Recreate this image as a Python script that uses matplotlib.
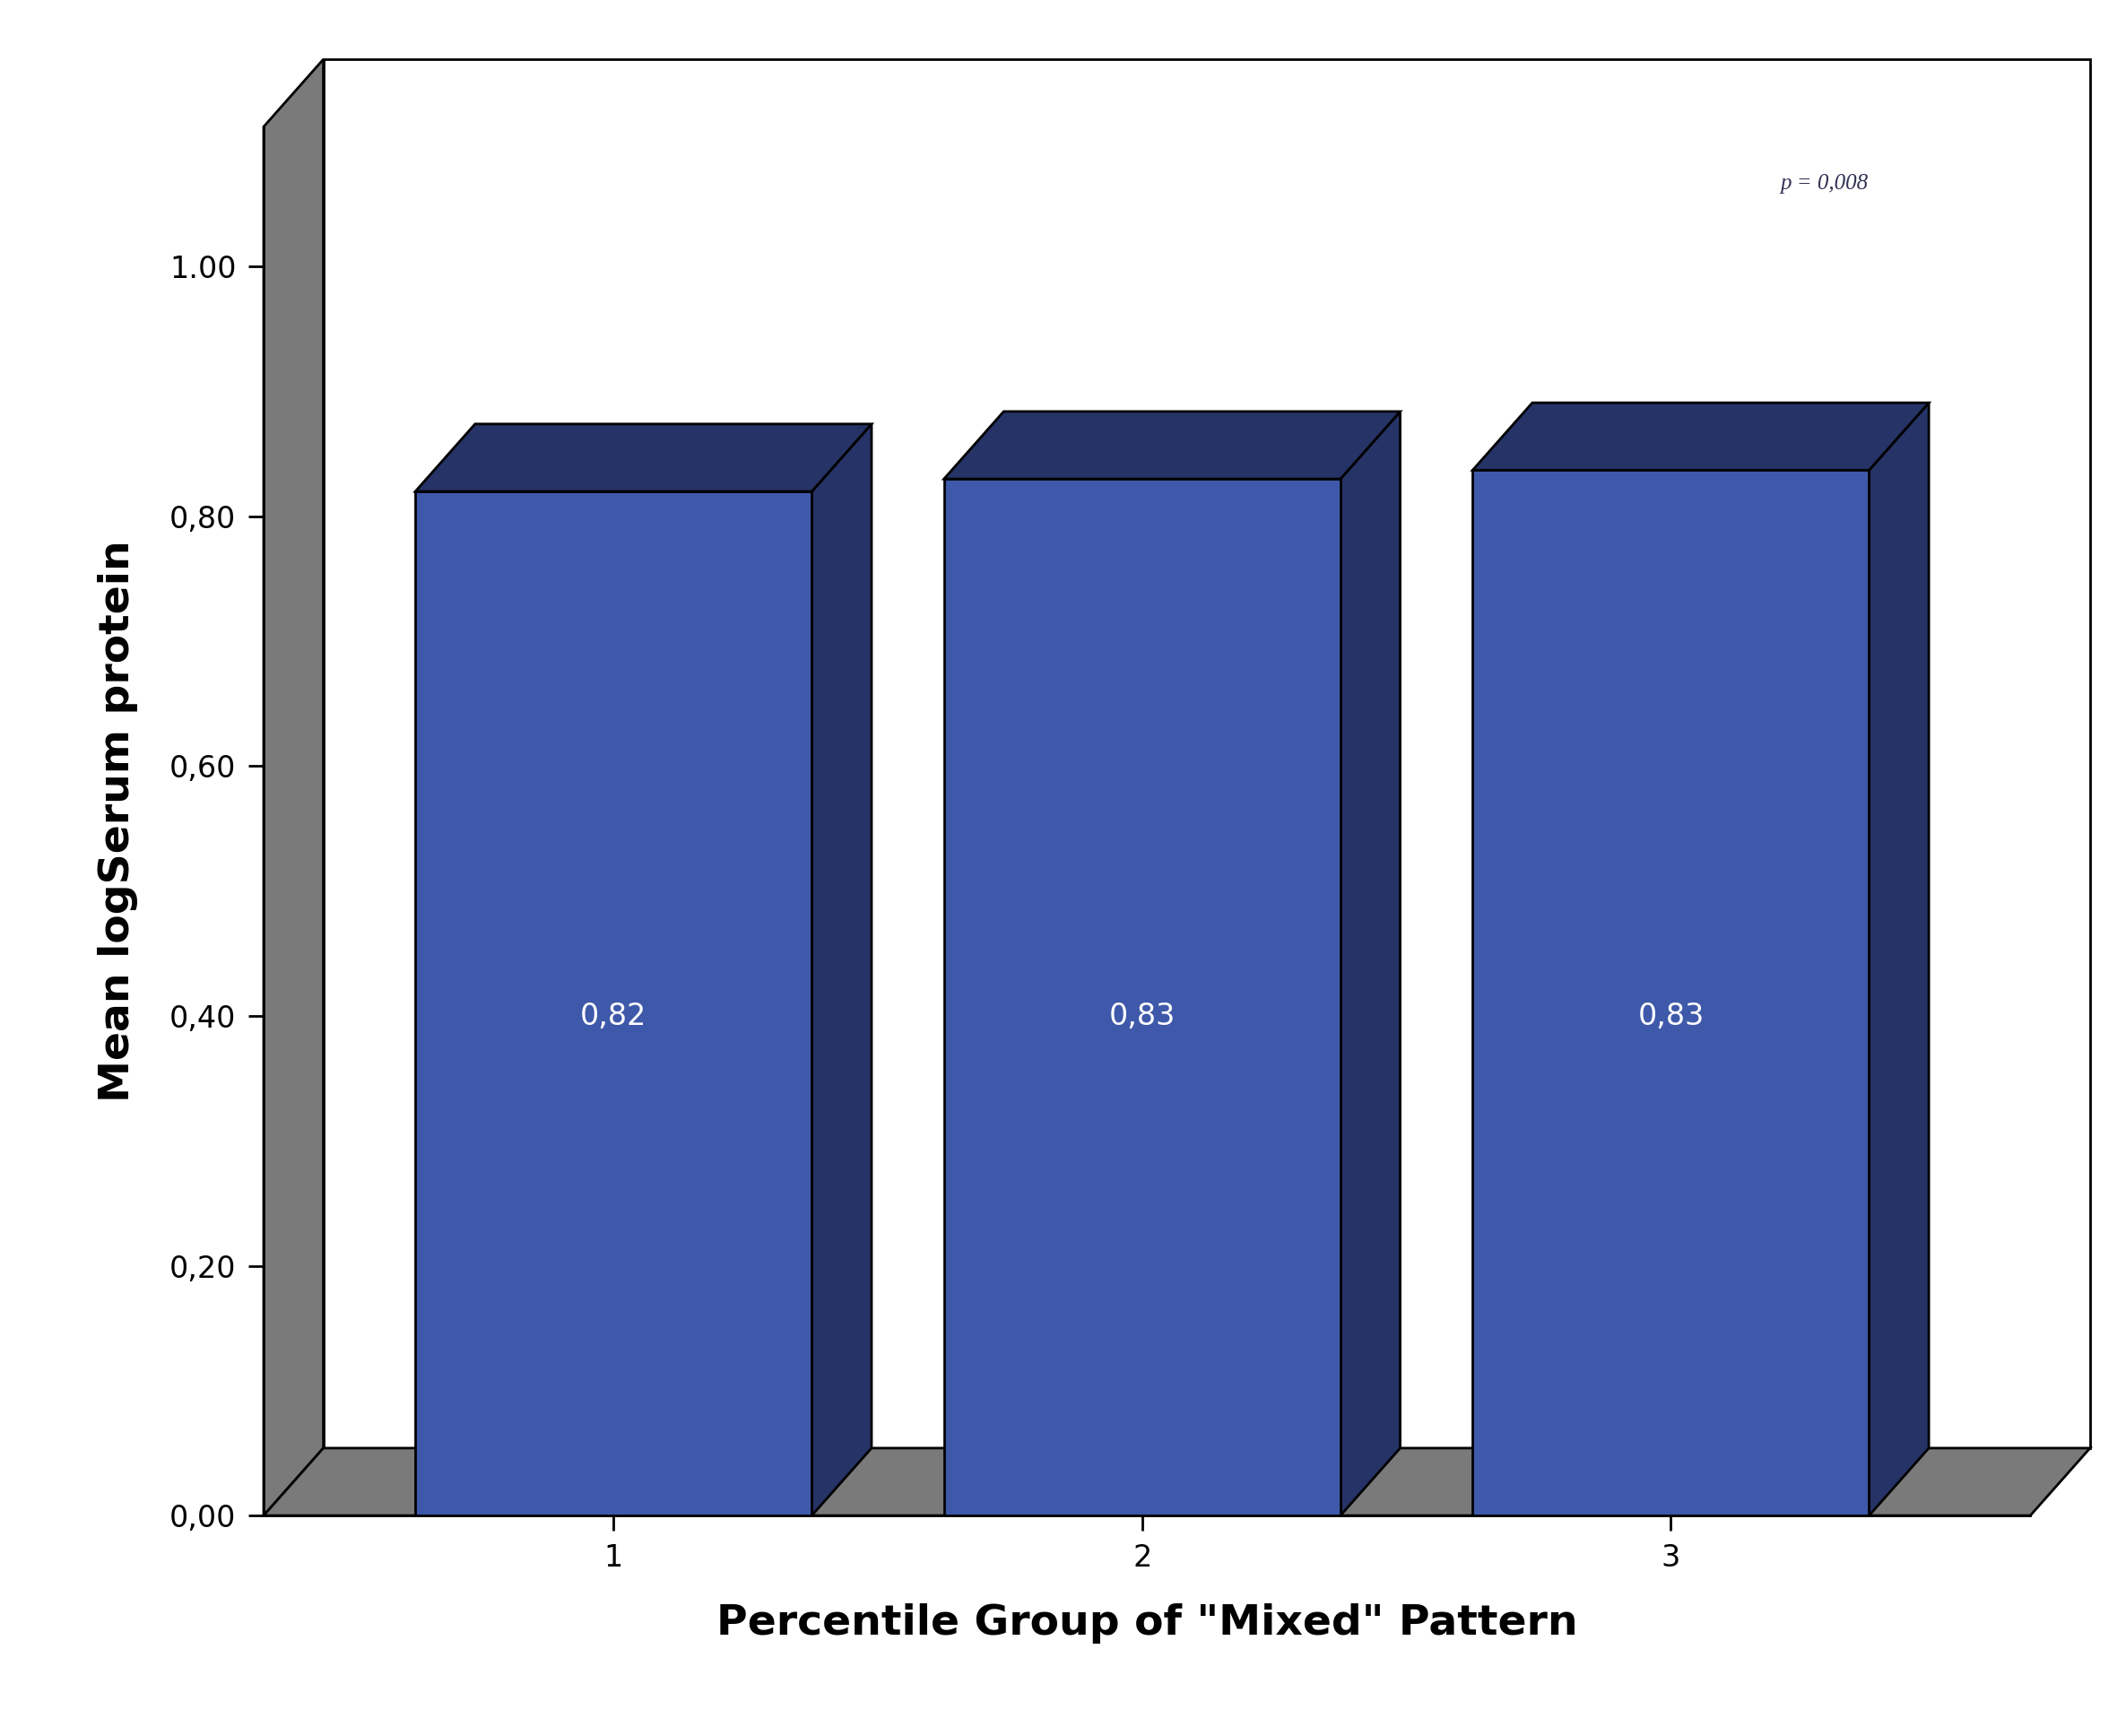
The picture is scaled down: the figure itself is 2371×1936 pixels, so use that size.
import matplotlib
matplotlib.use("Agg")
import matplotlib.pyplot as plt
from matplotlib.patches import Polygon

groups = [1, 2, 3]
means = [0.82, 0.83, 0.837]
labels = ["0,82", "0,83", "0,83"]
yticks = [0.0, 0.2, 0.4, 0.6, 0.8, 1.0]
yticklabels = ["0,00", "0,20", "0,40", "0,60", "0,80", "1.00"]

front = "#3F59AA"
dark = "#263366"
gray = "#7A7A7A"

fig = plt.figure(figsize=(23.71, 19.36), dpi=100)
ax = fig.add_axes([0.124, 0.127, 0.831, 0.80])
x0, x1 = 0.338, 3.68
ymax = 1.112
dx, dy = 0.113, 0.054
ax.set_xlim(x0, x1)
ax.set_ylim(0, ymax)

def poly(pts, fc, z=1):
    ax.add_patch(Polygon(pts, closed=True, facecolor=fc, edgecolor="black",
                         linewidth=2, clip_on=False, zorder=z))

# back wall, left wall, floor
poly([(x0 + dx, dy), (x1 + dx, dy), (x1 + dx, ymax + dy), (x0 + dx, ymax + dy)], "white", 0)
poly([(x0, 0), (x0 + dx, dy), (x0 + dx, ymax + dy), (x0, ymax)], gray, 1)
poly([(x0, 0), (x1, 0), (x1 + dx, dy), (x0 + dx, dy)], gray, 1)

w = 0.75
for g, m, lab in zip(groups, means, labels):
    l, r = g - w / 2, g + w / 2
    poly([(r, 0), (r + dx, dy), (r + dx, m + dy), (r, m)], dark, 2)
    poly([(l, m), (r, m), (r + dx, m + dy), (l + dx, m + dy)], dark, 2)
    poly([(l, 0), (r, 0), (r, m), (l, m)], front, 3)
    ax.text(g, 0.4, lab, color="white", ha="center", va="center", fontsize=24, zorder=4)

ax.text(3.29, 1.066, "p = 0,008", fontsize=18, style="italic", color="#333355",
        ha="center", va="center", family="Liberation Serif")

for s in ["top", "right"]:
    ax.spines[s].set_visible(False)
ax.spines["left"].set_linewidth(2)
ax.spines["bottom"].set_linewidth(2)
ax.set_xticks(groups)
ax.set_xticklabels([str(g) for g in groups])
ax.set_yticks(yticks)
ax.set_yticklabels(yticklabels)
ax.tick_params(labelsize=24, width=2, length=12, pad=10)
ax.set_xlabel('Percentile Group of "Mixed" Pattern', fontsize=34, fontweight="bold", labelpad=25)
ax.set_ylabel("Mean logSerum protein", fontsize=34, fontweight="bold", labelpad=25)

fig.savefig("out.png", dpi=100)
